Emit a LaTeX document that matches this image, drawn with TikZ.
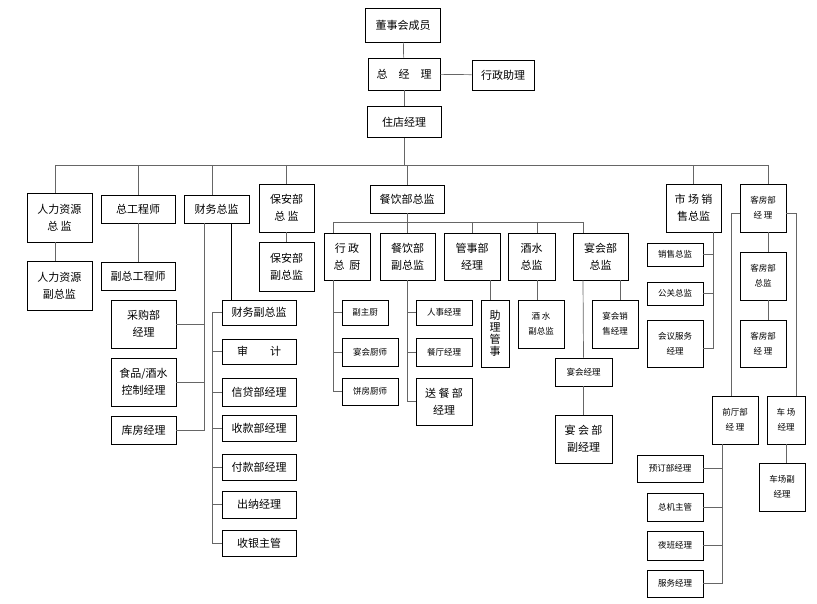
\documentclass[tikz,border=0pt]{standalone}
\usepackage{fontspec}
\setmainfont{Noto Sans CJK SC}
\usepackage{tikz}
\tikzset{
  unit/.style={draw, line width=0.8pt, inner sep=1pt, align=center, font=\fontsize{11}{17}\selectfont},
  tiny/.style={unit, font=\fontsize{8.5}{15}\selectfont},
  link/.style={draw, gray!80!black, line width=0.7pt}
}
\begin{document}
\begin{tikzpicture}[x=1pt, y=-1pt]
\useasboundingbox (0,0) rectangle (817,604);
% top
\node[unit, minimum width=75, minimum height=34] (dsh) at (403,25) {董事会成员};
\node[unit, minimum width=72, minimum height=32] (zjl) at (404,74) {总\quad 经\quad 理};
\node[unit, minimum width=62, minimum height=30] (xzzl) at (503,75) {行政助理};
\node[unit, minimum width=74, minimum height=31] (zdjl) at (404,122) {住店经理};
\draw[link] (dsh) -- (zjl);
\draw[link] (zjl) -- (xzzl);
\draw[link] (zjl) -- (zdjl);
\coordinate (busL) at (55,165);
\coordinate (busR) at (768,165);
\draw[link] (busL) -- (busR);
\draw[link] (zdjl.south) -- (zdjl.south |- busL);
% left
\node[unit, minimum width=65, minimum height=49] (hrzj) at (59.5,217.5) {人力资源\\总\ 监};
\node[unit, minimum width=65, minimum height=49] (hrfzj) at (59.5,285.5) {人力资源\\副总监};
\node[unit, minimum width=74, minimum height=28] (zgcs) at (138,209) {总工程师};
\node[unit, minimum width=74, minimum height=28] (fzgcs) at (138,276) {副总工程师};
\node[unit, minimum width=65, minimum height=28] (cwzj) at (216.5,209) {财务总监};
\node[unit, minimum width=55, minimum height=48] (bazj) at (286.5,208) {保安部\\总\ 监};
\node[unit, minimum width=55, minimum height=49] (bafzj) at (286.5,266.5) {保安部\\副总监};
\draw[link] ([xshift=-4.5pt]hrzj.north |- busL) -- ([xshift=-4.5pt]hrzj.north);
\draw[link] ([xshift=-4.5pt]hrzj.south) -- ([xshift=-4.5pt]hrfzj.north);
\draw[link] (zgcs.north |- busL) -- (zgcs.north);
\draw[link] (zgcs) -- (fzgcs);
\draw[link] ([xshift=-4.5pt]cwzj.north |- busL) -- ([xshift=-4.5pt]cwzj.north);
\draw[link] (bazj.north |- busL) -- (bazj.north);
\draw[link] (bazj) -- (bafzj);
% finance
\node[unit, minimum width=65, minimum height=48] (cgb) at (143.5,324) {采购部\\经理};
\node[unit, minimum width=65, minimum height=48] (spjs) at (143.5,382) {食品/酒水\\控制经理};
\node[unit, minimum width=65, minimum height=28] (kfjl) at (143.5,430) {库房经理};
\coordinate (cwa) at (204,223);
\draw[link] (cwa) |- (kfjl.east);
\draw[link] (cgb.east) -- (cgb.east -| cwa);
\draw[link] (spjs.east) -- (spjs.east -| cwa);
\node[unit, minimum width=74, minimum height=25] (cwfzj) at (259,312.5) {财务副总监};
\node[unit, minimum width=74, minimum height=25] (sj) at (259,351.5) {审\qquad 计};
\node[unit, minimum width=74, minimum height=28] (xd) at (259,392) {信贷部经理};
\node[unit, minimum width=74, minimum height=26] (sk) at (259,428) {收款部经理};
\node[unit, minimum width=74, minimum height=26] (fk) at (259,467) {付款部经理};
\node[unit, minimum width=74, minimum height=27] (cn) at (259,504.5) {出纳经理};
\node[unit, minimum width=74, minimum height=26] (sy) at (259,543) {收银主管};
\draw[link, black] ([xshift=14.5pt]cwzj.south) -- ([xshift=14.5pt]cwzj.south |- cwfzj.north);
\coordinate (cwc) at (212,312.5);
\draw[link] (cwc) |- (sy.west);
\foreach \n in {cwfzj,sj,xd,sk,fk,cn}
  \draw[link] (cwc |- \n.west) -- (\n.west);
% food and beverage
\node[unit, minimum width=74, minimum height=28] (cyzj) at (407,199) {餐饮部总监};
\draw[link] (cyzj.north |- busL) -- (cyzj.north);
\coordinate (cybus) at (333,222);
\coordinate (cybusR) at (583,222);
\draw[link] (cyzj.south) -- (cyzj.south |- cybus);
\draw[link] (cybus) -- (cybusR);
\node[unit, minimum width=46, minimum height=47] (xzzc) at (347,256.5) {行\ 政\\总\ \ 厨};
\node[unit, minimum width=55, minimum height=47] (cyfzj) at (407.5,256.5) {餐饮部\\副总监};
\node[unit, minimum width=56, minimum height=47] (gsb) at (472,256.5) {管事部\\经理};
\node[unit, minimum width=47, minimum height=47] (jszj) at (531.5,256.5) {酒水\\总监};
\node[unit, minimum width=55, minimum height=47] (yhzj) at (600.5,256.5) {宴会部\\总监};
\draw[link] (cybus) -- ([xshift=-14pt]xzzc.north);
\draw[link] (cyfzj.north |- cybus) -- (cyfzj.north);
\draw[link] (gsb.north |- cybus) -- (gsb.north);
\draw[link] ([xshift=5.5pt]jszj.north |- cybus) -- ([xshift=5.5pt]jszj.north);
\draw[link] (cybusR) -- ([xshift=-17.5pt]yhzj.north);
\node[tiny, minimum width=46, minimum height=25] (fzc) at (365,312.5) {副主厨};
\node[tiny, minimum width=56, minimum height=28] (yhcs) at (370,352) {宴会厨师};
\node[tiny, minimum width=56, minimum height=27] (bfcs) at (370,391.5) {饼房厨师};
\draw[link] ([xshift=-14pt]xzzc.south) |- (bfcs.west);
\draw[link] ([xshift=-14pt]xzzc.south |- fzc.west) -- (fzc.west);
\draw[link] ([xshift=-14pt]xzzc.south |- yhcs.west) -- (yhcs.west);
\node[tiny, minimum width=56, minimum height=25] (rsjl) at (444,312.5) {人事经理};
\node[tiny, minimum width=56, minimum height=28] (ctjl) at (444,352) {餐厅经理};
\node[unit, minimum width=56, minimum height=47] (scb) at (444,401.5) {送\ 餐\ 部\\经理};
\draw[link] (cyfzj.south) |- (scb.west);
\draw[link] (cyfzj.south |- rsjl.west) -- (rsjl.west);
\draw[link] (cyfzj.south |- ctjl.west) -- (ctjl.west);
\node[unit, minimum width=28, minimum height=67, font=\fontsize{11}{12}\selectfont] (zlgs) at (495,333.5) {助\\理\\管\\事};
\draw[link] ([xshift=-5pt]zlgs.north |- gsb.south) -- ([xshift=-5pt]zlgs.north);
\node[tiny, minimum width=46, minimum height=48] (jsfzj) at (541,324) {酒\ 水\\副总监};
\draw[link] ([xshift=5.5pt]jszj.south) -- ([xshift=5.5pt]jszj.south |- jsfzj.north);
\node[tiny, minimum width=46, minimum height=48] (yhxs) at (615,324) {宴会销\\售经理};
\draw[link] ([xshift=5pt]yhxs.north |- yhzj.south) -- ([xshift=5pt]yhxs.north);
\node[tiny, minimum width=57, minimum height=28] (yhjl) at (583.5,372) {宴会经理};
\node[unit, minimum width=57, minimum height=48] (yhfjl) at (583.5,439) {宴\ 会\ 部\\副经理};
\draw[link] ([xshift=-17.5pt]yhzj.south) -- (yhjl.north);
\draw[link] (yhjl) -- (yhfjl);
% sales
\node[unit, minimum width=55, minimum height=48] (scxs) at (693.5,208) {市\ 场\ 销\\售总监};
\draw[link] (scxs.north |- busL) -- (scxs.north);
\node[tiny, minimum width=56, minimum height=23] (xszj) at (675,254.5) {销售总监};
\node[tiny, minimum width=56, minimum height=23] (ggzj) at (675,293.5) {公关总监};
\node[tiny, minimum width=56, minimum height=47] (hyfw) at (675,343.5) {会议服务\\经理};
\coordinate (scv) at (713,232);
\draw[link] (scv) |- ([yshift=-5pt]hyfw.east);
\draw[link] (scv |- xszj.east) -- (xszj.east);
\draw[link] (scv |- ggzj.east) -- (ggzj.east);
% rooms
\node[tiny, minimum width=46, minimum height=48] (kfjl1) at (763,208) {客房部\\经\ 理};
\node[tiny, minimum width=46, minimum height=48] (kfzj) at (763,276) {客房部\\总监};
\node[tiny, minimum width=46, minimum height=47] (kfjl2) at (763,343.5) {客房部\\经\ 理};
\draw[link] (busR) -- ([xshift=5pt]kfjl1.north);
\draw[link] ([xshift=5pt]kfjl1.south) -- ([xshift=5pt]kfzj.north);
\draw[link] ([xshift=5pt]kfzj.south) -- ([xshift=5pt]kfjl2.north);
\node[tiny, minimum width=46, minimum height=48] (qtb) at (735,420) {前厅部\\经\ 理};
\node[tiny, minimum width=38, minimum height=48] (cc) at (786,420) {车\ 场\\经理};
\node[tiny, minimum width=46, minimum height=48] (ccf) at (782,487) {车场副\\经理};
\draw[link] ([yshift=-5pt]kfjl1.west) -| ([xshift=-4pt]qtb.north);
\draw[link] ([yshift=-5pt]kfjl1.east) -| ([xshift=10pt]cc.north);
\draw[link] (cc.south) -- (cc.south |- ccf.north);
\node[tiny, minimum width=66, minimum height=27] (ydb) at (670,468.5) {预订部经理};
\node[tiny, minimum width=56, minimum height=28] (zjzg) at (675,507) {总机主管};
\node[tiny, minimum width=56, minimum height=29] (ybjl) at (675,545.5) {夜班经理};
\node[tiny, minimum width=56, minimum height=27] (fwjl) at (675,583.5) {服务经理};
\draw[link] ([xshift=-13pt]qtb.south) |- (fwjl.east);
\foreach \n in {ydb,zjzg,ybjl}
  \draw[link] ([xshift=-13pt]qtb.south |- \n.east) -- (\n.east);
\end{tikzpicture}
\end{document}
